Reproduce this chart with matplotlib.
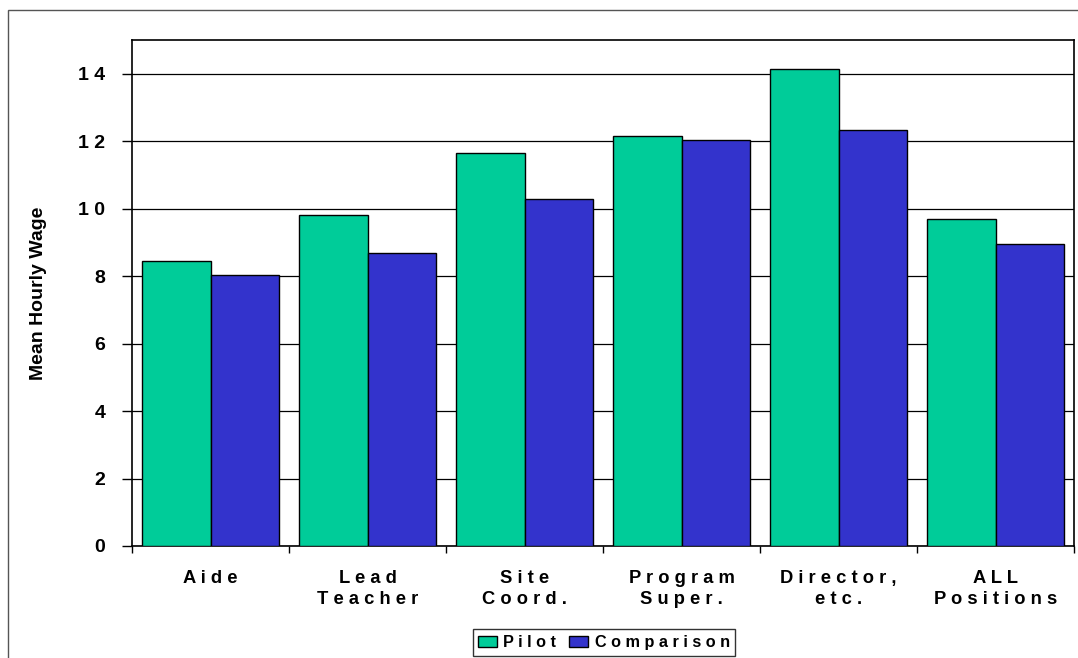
import matplotlib.pyplot as plt
import numpy as np
from matplotlib.patches import Rectangle

categories = ["Aide", "Lead\nTeacher", "Site\nCoord.", "Program\nSuper.", "Director,\netc.", "ALL\nPositions"]
pilot = [8.44, 9.81, 11.65, 12.15, 14.14, 9.69]
comparison = [8.02, 8.69, 10.28, 12.03, 12.34, 8.95]
yticks = [0, 2, 4, 6, 8, 10, 12, 14]


def spaced(s):
    # mimic the wide letter spacing of the original chart
    return "\n".join(" ".join(line) for line in s.split("\n"))


plt.rcParams["font.family"] = ["Liberation Sans", "DejaVu Sans"]
plt.rcParams["font.weight"] = "bold"

fig = plt.figure(figsize=(10.78, 6.58), dpi=100)
ax = fig.add_axes([132 / 1078, 1 - 546 / 658, (1074 - 132) / 1078, (546 - 40) / 658])

x = np.arange(len(categories))
w = 0.436
ax.bar(x - w / 2, pilot, w, color="#00CC99", edgecolor="black", linewidth=1, label=spaced("Pilot"), zorder=3)
ax.bar(x + w / 2, comparison, w, color="#3333CC", edgecolor="black", linewidth=1, label=spaced("Comparison"), zorder=3)

ax.set_xlim(-0.5, len(categories) - 0.5)
ax.set_ylim(0, 15)
ax.set_yticks(yticks)
ax.set_yticklabels([spaced(str(v)) for v in yticks], fontsize=14, fontweight="bold")
ax.yaxis.grid(True, color="black", linewidth=0.9, zorder=0)
ax.tick_params(axis="y", length=7.2, width=1, pad=12)

ax.set_xticks(np.arange(len(categories) + 1) - 0.5)
ax.set_xticklabels([])
ax.tick_params(axis="x", length=5, width=1)
ax.set_xticks(x, minor=True)
ax.set_xticklabels([spaced(c) for c in categories], minor=True, fontsize=13.2, fontweight="bold", linespacing=1.25)
ax.tick_params(axis="x", which="minor", length=0, pad=17.5)

ax.set_ylabel("Mean Hourly Wage", fontsize=14, fontweight="bold")
ax.yaxis.set_label_coords((47 - 132) / 942, 0.5)
for s in ax.spines.values():
    s.set_linewidth(1.2)
    s.set_color("black")

leg = fig.legend(loc="center", bbox_to_anchor=(604 / 1078, 1 - 642.5 / 658), ncol=2,
                 frameon=True, fancybox=False, edgecolor="black",
                 handlelength=1.15, handleheight=0.7, handletextpad=0.4, columnspacing=0.8,
                 borderpad=0.35, borderaxespad=0, prop={"weight": "bold", "size": 11.7})
leg.get_frame().set_linewidth(1)

# outer chart border (right and bottom edges fall outside the image)
fig.add_artist(Rectangle((8 / 1078, -0.1), 1.1, 1.1 - 10 / 658,
                         transform=fig.transFigure, fill=False, edgecolor="#555555", linewidth=1))

fig.savefig("out.png", dpi=100)
